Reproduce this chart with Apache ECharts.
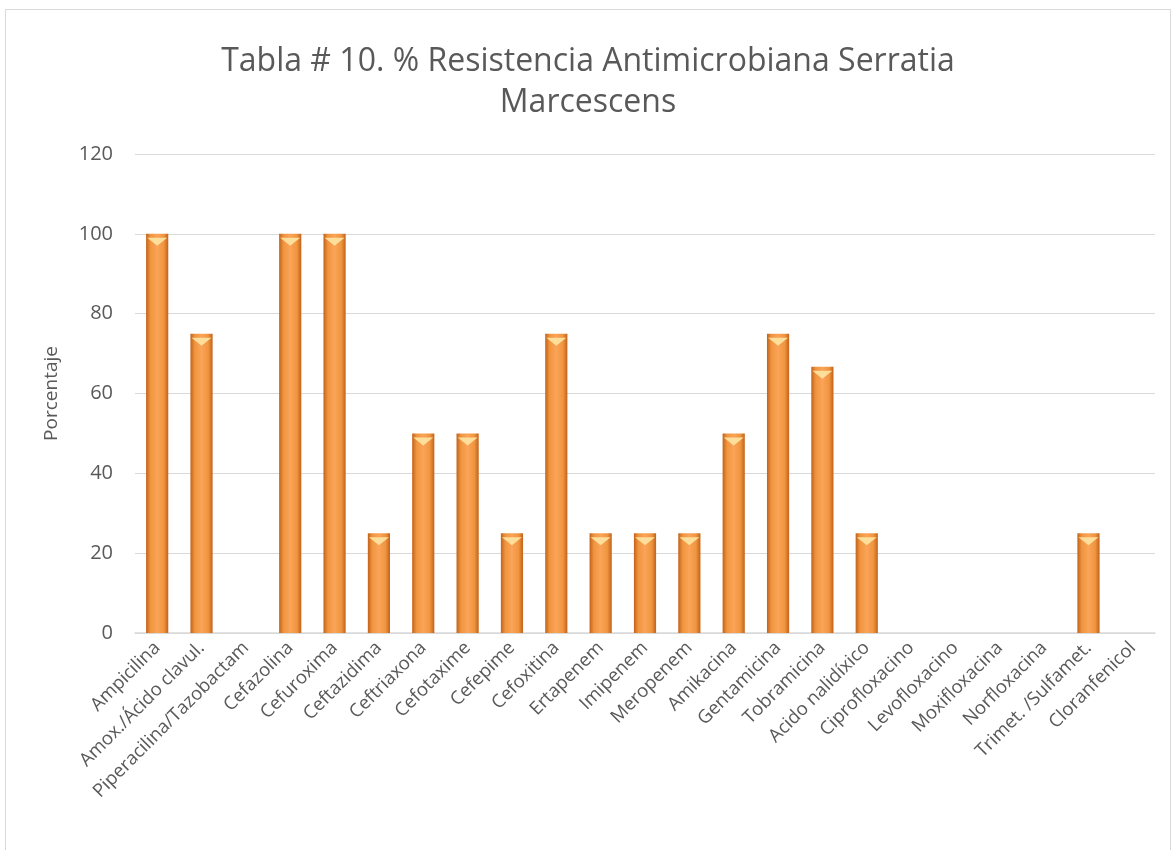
<!DOCTYPE html>
<html>
<head>
<meta charset="utf-8">
<script src="https://cdn.jsdelivr.net/npm/echarts@6/dist/echarts.min.js"></script>
<style>
  html, body { margin: 0; padding: 0; background: #fff; }
  #frame {
    position: absolute; left: 5px; top: 9px; width: 1166px; height: 850px;
    border: 1px solid #d9d9d9; box-sizing: border-box;
  }
  #myChart { position: absolute; left: 0; top: 0; width: 1176px; height: 850px; }
</style>
</head>
<body>
<div id="frame"></div>
<div id="myChart"></div>
<script>
  var categories = [
    'Ampicilina', 'Amox./Ácido clavul.', 'Piperacilina/Tazobactam', 'Cefazolina',
    'Cefuroxima', 'Ceftazidima', 'Ceftriaxona', 'Cefotaxime', 'Cefepime',
    'Cefoxitina', 'Ertapenem', 'Imipenem', 'Meropenem', 'Amikacina',
    'Gentamicina', 'Tobramicina', 'Acido nalidíxico', 'Ciprofloxacino',
    'Levofloxacino', 'Moxifloxacina', 'Norfloxacina', 'Trimet. /Sulfamet.',
    'Cloranfenicol'
  ];
  var resistencia = [100, 75, 0, 100, 100, 25, 50, 50, 25, 75, 25, 25, 25, 50, 75, 66.7, 25, 0, 0, 0, 0, 25, 0];
  var titleText = 'Tabla # 10. % Resistencia Antimicrobiana Serratia\nMarcescens';

  var myChart = echarts.init(document.getElementById('myChart'));
  var fontFam = '"Open Sans", "Noto Sans", sans-serif';
  // little bevel cap on top of every non-empty bar
  var caps = resistencia.map(function (v) {
    return { value: v, symbolSize: v > 0 ? [20, 8] : [0, 0] };
  });
  var option = {
    textStyle: { fontFamily: fontFam },
    title: {
      text: titleText,
      left: 'center',
      top: 36,
      textStyle: { color: '#595959', fontSize: 32, fontWeight: 'normal', lineHeight: 41, fontFamily: fontFam }
    },
    grid: { left: 135, right: 21, top: 154, bottom: 217 },
    xAxis: {
      type: 'category',
      data: categories,
      axisTick: { show: false },
      axisLine: { lineStyle: { color: '#d9d9d9', width: 1.5 } },
      axisLabel: { interval: 0, rotate: 45, color: '#595959', fontSize: 18.5, margin: 12, fontFamily: fontFam }
    },
    yAxis: {
      type: 'value',
      min: 0, max: 120, interval: 20,
      name: 'Porcentaje',
      nameLocation: 'middle',
      nameGap: 74,
      nameTextStyle: { color: '#595959', fontSize: 19, fontFamily: fontFam },
      axisLabel: { color: '#595959', fontSize: 20, margin: 22, fontFamily: fontFam },
      splitLine: { lineStyle: { color: '#d9d9d9' } }
    },
    series: [{
      name: 'Resistencia',
      type: 'bar',
      barWidth: '50%',
      data: resistencia,
      itemStyle: {
        color: new echarts.graphic.LinearGradient(0, 0, 1, 0, [
          { offset: 0, color: '#c2621a' },
          { offset: 0.2, color: '#f0953f' },
          { offset: 0.5, color: '#fba458' },
          { offset: 0.8, color: '#f0953f' },
          { offset: 1, color: '#c2621a' }
        ]),
        shadowColor: 'rgba(0,0,0,0.25)',
        shadowBlur: 4,
        shadowOffsetX: 1
      }
    }, {
      name: 'cap',
      type: 'pictorialBar',
      symbol: 'triangle',
      symbolRotate: 180,
      symbolPosition: 'end',
      symbolOffset: [0, '50%'],
      silent: true,
      z: 3,
      data: caps,
      itemStyle: { color: '#fde6a3', opacity: 0.9 }
    }]
  };
  myChart.setOption(option, true);
</script>
</body>
</html>
